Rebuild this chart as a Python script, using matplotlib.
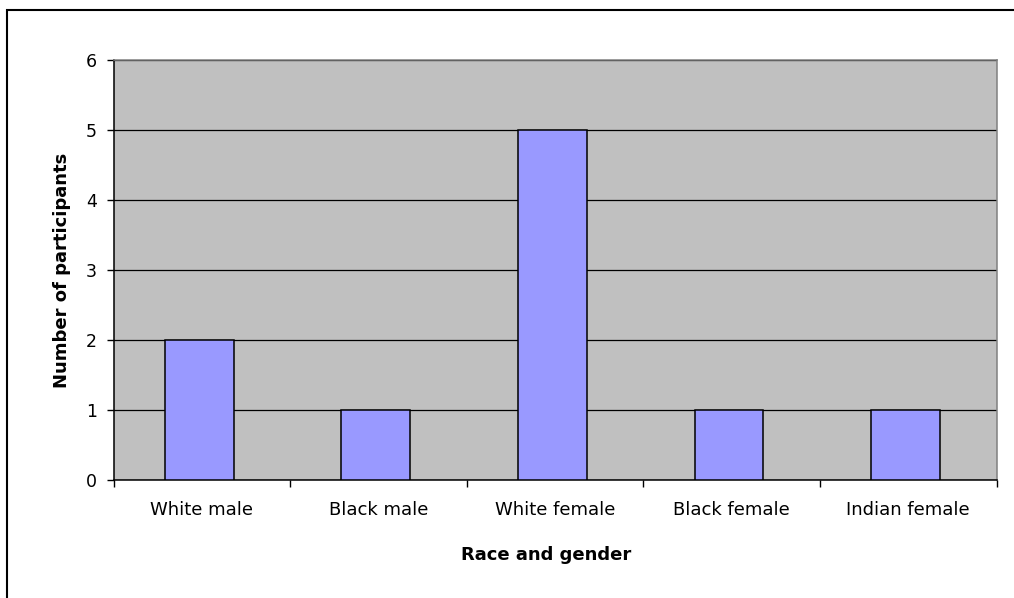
import matplotlib.pyplot as plt
from matplotlib.patches import Rectangle
from matplotlib.ticker import FixedLocator

# data
groups = ["White male", "Black male", "White female", "Black female", "Indian female"]
counts = [2, 1, 5, 1, 1]
y_ticks = [0, 1, 2, 3, 4, 5, 6]


def main():
    plt.rcParams['font.family'] = ['DejaVu Sans']
    fig = plt.figure(figsize=(10.14, 5.98), dpi=100)
    ax = fig.add_axes([113.5 / 1014, 1 - 480 / 598, 883 / 1014, 420 / 598])

    # outer chart-area frame (Excel style), runs off the right/bottom edge
    fig.patches.append(Rectangle((7 / 1014, -0.1), 1.2, 1 - 10 / 598 + 0.1,
                                 transform=fig.transFigure, fill=False,
                                 edgecolor="black", linewidth=1.5, clip_on=False))

    ax.set_facecolor("#C0C0C0")
    xs = list(range(len(groups)))
    ax.bar([x - 0.015 for x in xs], counts, width=0.39, color="#9999FF",
           edgecolor="black", linewidth=1.1, zorder=3)

    ax.set_xlim(-0.5, len(groups) - 0.5)
    ax.set_ylim(0, 6)
    ax.set_yticks(y_ticks)
    ax.yaxis.grid(True, color="black", linewidth=0.9, zorder=1)
    ax.set_axisbelow(True)

    ax.set_xticks(xs)
    ax.set_xticklabels(groups)
    ax.xaxis.set_minor_locator(FixedLocator([i - 0.5 for i in range(len(groups) + 1)]))
    ax.tick_params(axis="x", which="major", length=0, pad=15, labelsize=13)
    ax.tick_params(axis="x", which="minor", length=5, width=1, direction="out")
    ax.tick_params(axis="y", length=5, width=1, direction="out", pad=7, labelsize=12.5)

    for side in ["left", "bottom"]:
        ax.spines[side].set_color("black")
        ax.spines[side].set_linewidth(1.1)
    for side in ["top", "right"]:
        ax.spines[side].set_color("#808080")
        ax.spines[side].set_linewidth(1.1)

    ax.set_xlabel("Race and gender", fontsize=13, fontweight="bold", va="center")
    ax.set_ylabel("Number of participants", fontsize=13, fontweight="bold", va="center")
    ax.xaxis.set_label_coords(0.49, -0.1786)
    ax.yaxis.set_label_coords(-0.058, 0.5)

    fig.savefig("out.png", dpi=100)


if __name__ == '__main__':
    main()
